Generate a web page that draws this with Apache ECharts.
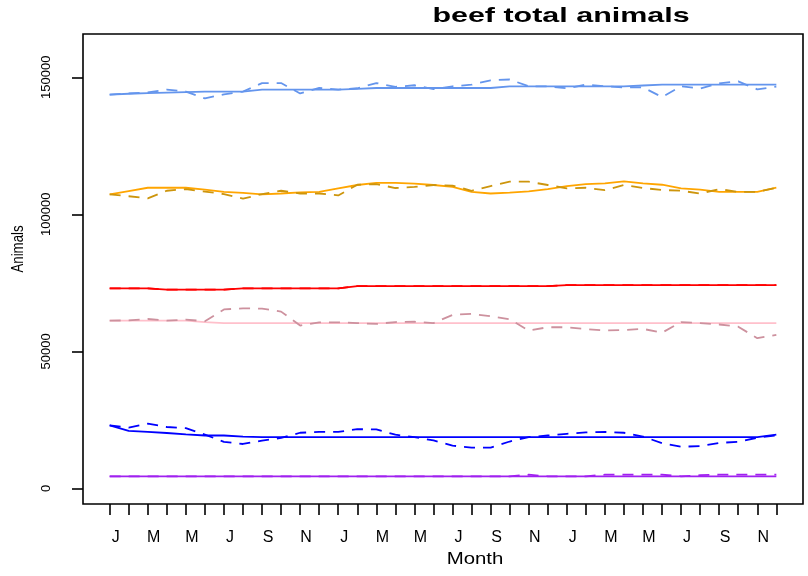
<!DOCTYPE html>
<html>
<head>
<meta charset="utf-8">
<script src="https://cdn.jsdelivr.net/npm/echarts@6/dist/echarts.min.js"></script>
<style>
  html, body { margin: 0; padding: 0; background: #ffffff; }
  #chart { width: 808px; height: 576px; }
</style>
</head>
<body>
<div id="chart"></div>
<script>
// Three years of monthly totals, January to December
const months = [
  'J','F','M','A','M','J','J','A','S','O','N','D',
  'J','F','M','A','M','J','J','A','S','O','N','D',
  'J','F','M','A','M','J','J','A','S','O','N','D'
];

// Animal counts: fitted trend (solid) and recorded totals (dashed) per group
const groupATrend = [143700,144000,144200,144400,144600,144800,144800,144800,145500,145500,145500,145500,145500,145800,146100,146100,146100,146100,146100,146100,146100,146700,146700,146700,146700,146700,146700,146700,147000,147300,147300,147300,147300,147300,147300,147300];
const groupAActual = [143700,144100,144500,145500,144800,142300,143800,144800,147900,147900,144100,146100,145500,146000,147900,146500,147100,145700,146700,147300,148900,149200,146700,146700,146000,147300,146700,146300,146300,142800,146700,145900,147800,148500,145600,146600];

const groupBTrend = [107300,108500,109700,109700,109700,109000,108200,107800,107300,107600,108000,108200,109500,110700,111500,111500,111200,110700,110000,108200,107600,107900,108400,109200,110300,111000,111300,112000,111300,110800,109500,109000,108200,108200,108200,109700];
const groupBActual = [107300,106600,105800,108600,109200,108300,107400,105700,107400,108600,107600,107600,106900,110800,111000,109600,110000,110700,110500,108600,110300,111900,111900,110700,109500,109700,108800,110700,109600,108900,108600,107600,109200,108200,108200,109700];

const groupCTrend = [73000,73000,73000,72500,72500,72500,72500,73000,73000,73000,73000,73000,73000,73800,73800,73800,73800,73800,73800,73800,73800,73800,73800,73800,74200,74200,74200,74200,74200,74200,74200,74200,74200,74200,74200,74200];
const groupCActual = [73000,73000,73000,72500,72500,72500,72500,73000,73000,73000,73000,73000,73000,73800,73800,73800,73800,73800,73800,73800,73800,73800,73800,73800,74200,74200,74200,74200,74200,74200,74200,74200,74200,74200,74200,74200];

const groupDTrend = [61200,61200,61200,61200,61200,60700,60300,60300,60300,60300,60300,60300,60300,60300,60300,60300,60300,60300,60300,60300,60300,60300,60300,60300,60300,60300,60300,60300,60300,60300,60300,60300,60300,60300,60300,60300];
const groupDActual = [61200,61300,61800,61200,61600,61000,65300,65700,65600,64500,59400,60600,60600,60300,60000,60700,60800,60300,63300,63700,62800,61700,57600,58800,58800,58100,57600,57800,58200,56800,60700,60300,59800,59000,54800,56000];

const groupETrend = [23000,21000,20600,20200,19700,19300,19300,18900,18700,18700,18700,18700,18700,18700,18700,18700,18700,18700,18700,18700,18700,18700,18700,18700,18700,18700,18700,18700,18700,18700,18700,18700,18700,18700,18700,19600];
const groupEActual = [23000,22200,23600,22400,22000,19600,17000,16200,17400,18400,20300,20600,20600,21600,21500,19600,18700,17500,15600,14900,14900,17100,18700,19300,19900,20400,20600,20300,18900,16500,15200,15400,16600,17000,18500,19300];

const groupFTrend = [4400,4400,4400,4400,4400,4400,4400,4400,4400,4400,4400,4400,4400,4400,4400,4400,4400,4400,4400,4400,4400,4400,4400,4400,4400,4400,4400,4400,4400,4400,4400,4400,4400,4400,4400,4400];
const groupFActual = [4400,4400,4400,4400,4400,4400,4400,4400,4400,4400,4400,4400,4400,4400,4400,4400,4400,4400,4400,4400,4400,4400,5000,4400,4400,4400,5000,5000,5000,5000,4400,4800,5000,5000,5000,5000];

const yTickValues = [0, 50000, 100000, 150000];

const FONT = '"Liberation Sans", Arial, Helvetica, sans-serif';
const DASH = [11, 8];

const monthIndex = months.map((_, i) => i);
const labelIndex = monthIndex.filter(i => i % 2 === 0);

function line(values, color, dashed) {
  return {
    type: 'line',
    data: values.map((v, i) => [i, v]),
    symbol: 'none',
    silent: true,
    lineStyle: { color: color, width: 1.8, type: dashed ? DASH : 'solid' },
    z: dashed ? 3 : 2
  };
}

const chart = echarts.init(document.getElementById('chart'), null, { renderer: 'canvas' });

chart.setOption({
  animation: false,
  backgroundColor: '#ffffff',
  grid: {
    left: 83, right: 5, top: 34, bottom: 72,
    show: true, borderColor: '#000000', borderWidth: 1.6, backgroundColor: 'transparent'
  },
  xAxis: {
    type: 'value',
    min: -1.4,
    max: 36.4,
    axisLine: { show: false, onZero: false },
    splitLine: { show: false },
    axisTick: {
      show: true, length: 11, customValues: monthIndex,
      lineStyle: { color: '#000000', width: 1.6 }
    },
    axisLabel: {
      customValues: labelIndex,
      formatter: v => months[Math.round(v)],
      margin: 26,
      padding: [0, 0, 0, 12],
      color: '#000000',
      fontFamily: FONT,
      fontSize: 16
    }
  },
  yAxis: {
    type: 'value',
    min: -5700,
    max: 165800,
    axisLine: { show: false, onZero: false },
    splitLine: { show: false },
    axisTick: {
      show: true, length: 11, customValues: yTickValues,
      lineStyle: { color: '#000000', width: 1.6 }
    },
    axisLabel: {
      customValues: yTickValues,
      formatter: v => String(v),
      rotate: 90,
      margin: 30,
      color: '#000000',
      fontFamily: FONT,
      fontSize: 13
    }
  },
  graphic: [
    {
      type: 'text', x: 561, y: 16, scaleX: 1.45,
      style: {
        text: 'beef total animals', textAlign: 'center', textVerticalAlign: 'middle',
        font: 'bold 21px ' + FONT, fill: '#000000'
      }
    },
    {
      type: 'text', x: 18, y: 249, rotation: Math.PI / 2, scaleX: 0.78,
      style: {
        text: 'Animals', textAlign: 'center', textVerticalAlign: 'middle',
        font: '17px ' + FONT, fill: '#000000'
      }
    },
    {
      type: 'text', x: 475, y: 559, scaleX: 1.2,
      style: {
        text: 'Month', textAlign: 'center', textVerticalAlign: 'middle',
        font: '17px ' + FONT, fill: '#000000'
      }
    }
  ],
  series: [
    line(groupATrend, '#6495ED', false),
    line(groupAActual, '#6495ED', true),
    line(groupBTrend, '#FFA500', false),
    line(groupBActual, '#CD950C', true),
    line(groupCTrend, '#FF0000', false),
    line(groupCActual, '#FF0000', true),
    line(groupDTrend, '#FFC0CB', false),
    line(groupDActual, '#CD919E', true),
    line(groupETrend, '#0000FF', false),
    line(groupEActual, '#0000FF', true),
    line(groupFTrend, '#A020F0', false),
    line(groupFActual, '#A020F0', true)
  ]
});
</script>
</body>
</html>
